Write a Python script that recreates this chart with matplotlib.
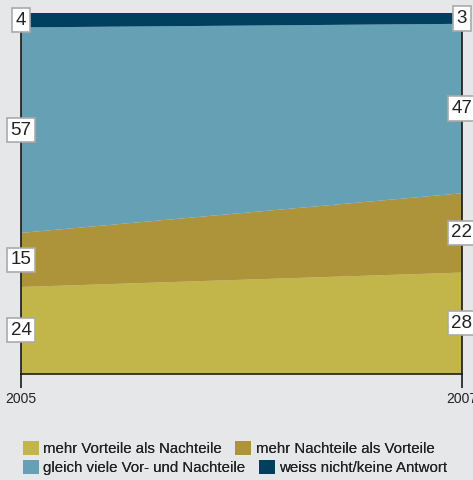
import matplotlib
matplotlib.use("Agg")
import matplotlib.pyplot as plt
from matplotlib.patches import Patch

years = [2005, 2007]
labels = ["mehr Vorteile als Nachteile", "mehr Nachteile als Vorteile",
          "gleich viele Vor- und Nachteile", "weiss nicht/keine Antwort"]
vorteile = [24, 28]
nachteile = [15, 22]
gleich = [57, 47]
weiss_nicht = [4, 3]
colors = ["#C2B549", "#AD933A", "#66A0B5", "#003F5E"]

plt.rcParams["font.family"] = ["Liberation Sans", "DejaVu Sans"]

bg = "#E6E7E9"
fig = plt.figure(figsize=(4.73, 4.80), dpi=100, facecolor=bg)
ax = fig.add_axes([21 / 473, 1 - 373.5 / 480, 441 / 473, 360.5 / 480])
ax.set_facecolor(bg)

series = [vorteile, nachteile, gleich, weiss_nicht]
ax.stackplot(years, *series, colors=colors, linewidth=0)
ax.set_xlim(2005, 2007)
ax.set_ylim(0, 100)

ax.spines["top"].set_visible(False)
for s in ["left", "right", "bottom"]:
    ax.spines[s].set_color("#1a1a1a")
    ax.spines[s].set_linewidth(1.2)
ax.set_yticks([])
ax.set_xticks(years)
ax.set_xticklabels([str(y) for y in years], fontsize=10, color="#222222")
ax.tick_params(axis="x", length=10, width=1.2, color="#1a1a1a", pad=3)

# value boxes
for i, yr in enumerate(years):
    base = 0
    for s in series:
        v = s[i]
        ax.text(yr, base + v / 2, str(v), ha="center", va="center", fontsize=13.5,
                color="#222222", clip_on=False, zorder=5,
                bbox=dict(boxstyle="square,pad=0.2", fc="white", ec="#AAAAAA", lw=1.2))
        base += v

# legend: two rows, each laid out on its own (flow layout)
handles = [Patch(facecolor=c, edgecolor="none") for c in colors]
rows = [[0, 1], [2, 3]]
for r, idx in enumerate(rows):
    leg = fig.legend([handles[k] for k in idx], [labels[k] for k in idx], ncol=2,
                     loc="upper left", bbox_to_anchor=(15 / 473, 1 - (433 + r * 19) / 480),
                     frameon=False, fontsize=10.8, handlelength=1.07, handleheight=1.07,
                     handletextpad=0.3, columnspacing=0.9, borderpad=0,
                     labelcolor="#222222")
    fig.add_artist(leg)

fig.savefig("out.png", dpi=100, facecolor=bg)
